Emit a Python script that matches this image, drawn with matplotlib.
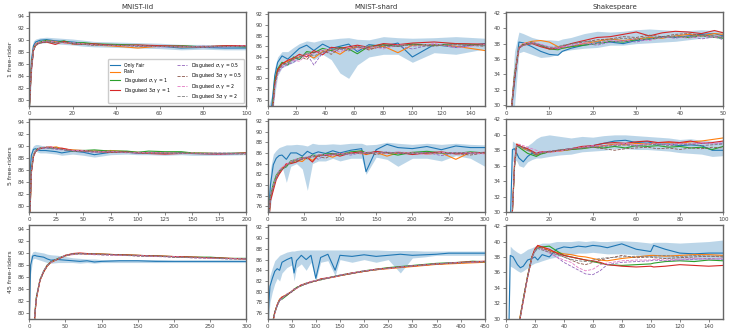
import numpy as np
import matplotlib.pyplot as plt

# --- series names / styles ---
labels = ['Only Fair', 'Plain',
          r'Disguised $\sigma$, $\gamma$ = 1', r'Disguised 3$\sigma$, $\gamma$ = 1',
          r'Disguised $\sigma$, $\gamma$ = 0.5', r'Disguised 3$\sigma$, $\gamma$ = 0.5',
          r'Disguised $\sigma$, $\gamma$ = 2', r'Disguised 3$\sigma$, $\gamma$ = 2']
colors = ['tab:blue', 'tab:orange', 'tab:green', 'tab:red',
          'tab:purple', 'tab:brown', 'tab:pink', 'tab:gray']
styles = ['-', '-', '-', '-', '--', '--', '--', '--']

col_titles = ['MNIST-iid', 'MNIST-shard', 'Shakespeare']
row_labels = ['1 free-rider', '5 free-riders', '45 free-riders']

# --- MNIST-iid, 1 free-rider ---
iid1_x = [0, 1, 2, 3, 5, 8, 12, 16, 20, 25, 30, 40, 50, 60, 70, 80, 90, 100]
iid1_fair = [78, 86.5, 89.0, 89.6, 89.9, 90.0, 89.8, 89.7, 89.6, 89.4, 89.2, 89.1, 89.0, 88.9, 88.6, 88.7, 88.6, 88.6]
iid1_plain = [78, 85.5, 88.5, 89.3, 89.6, 89.8, 89.7, 89.5, 89.3, 89.3, 89.1, 88.9, 88.6, 88.9, 88.8, 88.8, 88.9, 88.9]
iid1_s1 = [78, 85.2, 88.4, 89.2, 89.6, 89.9, 89.5, 89.8, 89.4, 89.5, 89.3, 89.2, 89.1, 88.9, 89.0, 88.8, 88.9, 88.8]
iid1_3s1 = [78, 84.8, 88.2, 89.1, 89.5, 89.6, 89.2, 89.7, 89.3, 89.2, 89.3, 89.0, 89.1, 89.0, 88.9, 88.8, 89.0, 89.0]
iid1_s05 = [78, 85.0, 88.3, 89.2, 89.5, 89.7, 89.6, 89.5, 89.4, 89.2, 89.1, 89.0, 88.9, 88.8, 88.9, 88.7, 88.8, 88.9]
iid1_3s05 = [78, 84.9, 88.1, 89.0, 89.4, 89.6, 89.5, 89.6, 89.3, 89.2, 89.2, 89.1, 89.0, 88.9, 88.8, 88.9, 88.9, 88.8]
iid1_s2 = [78, 85.1, 88.4, 89.3, 89.6, 89.8, 89.6, 89.4, 89.5, 89.3, 89.1, 89.0, 89.0, 88.8, 88.8, 88.9, 88.8, 89.0]
iid1_3s2 = [78, 85.0, 88.2, 89.1, 89.5, 89.7, 89.4, 89.6, 89.3, 89.2, 89.0, 89.1, 88.9, 88.9, 88.9, 88.8, 88.9, 88.9]
iid1_lo = [76, 84, 88.3, 89.1, 89.4, 89.5, 89.3, 89.2, 89.1, 88.9, 88.8, 88.7, 88.6, 88.5, 88.3, 88.4, 88.3, 88.3]
iid1_hi = [80, 88.5, 89.8, 90.1, 90.3, 90.4, 90.3, 90.2, 90.1, 89.9, 89.7, 89.6, 89.5, 89.4, 89.2, 89.2, 89.1, 89.1]

# --- MNIST-shard, 1 free-rider ---
shard1_x = [0, 3, 5, 7, 10, 14, 18, 22, 27, 32, 38, 44, 50, 56, 62, 70, 80, 90, 100, 115, 130, 150]
shard1_fair = [72, 75, 80.5, 83.0, 84.2, 83.6, 84.6, 85.6, 86.2, 85.2, 86.4, 85.6, 86.0, 86.4, 85.0, 86.3, 86.0, 86.6, 84.0, 86.3, 85.8, 86.5]
shard1_plain = [70, 73, 79, 81.5, 82.8, 83.2, 83.6, 84.0, 84.5, 83.8, 85.0, 85.3, 84.5, 85.6, 85.8, 85.5, 86.0, 84.8, 86.2, 86.3, 86.0, 85.2]
shard1_s1 = [70, 73, 79.5, 81.8, 83.0, 82.5, 84.0, 83.5, 85.0, 84.8, 85.6, 85.2, 85.8, 85.5, 84.6, 86.0, 86.3, 86.0, 86.4, 86.2, 86.5, 86.2]
shard1_3s1 = [70, 72, 79, 81.6, 82.7, 83.4, 83.8, 84.5, 84.0, 85.2, 84.4, 85.8, 85.6, 85.9, 86.2, 85.8, 86.5, 86.3, 86.6, 86.8, 86.5, 86.4]
shard1_s05 = [70, 72, 78.5, 81.0, 82.0, 82.6, 83.0, 83.8, 84.6, 82.5, 84.8, 85.0, 85.4, 85.2, 85.8, 85.6, 85.8, 86.0, 85.5, 86.4, 86.0, 86.2]
shard1_3s05 = [70, 72, 78.8, 81.2, 82.4, 83.0, 83.5, 84.2, 83.5, 84.8, 85.2, 84.5, 85.6, 85.6, 86.0, 85.3, 86.2, 86.0, 86.4, 86.1, 86.3, 86.0]
shard1_s2 = [70, 72, 78.2, 80.8, 82.2, 82.8, 83.4, 83.2, 84.4, 84.6, 85.3, 85.5, 84.9, 85.8, 85.4, 86.1, 85.5, 86.3, 86.0, 86.5, 85.7, 86.3]
shard1_3s2 = [70, 72, 78.6, 81.1, 82.5, 82.9, 83.7, 84.0, 84.8, 84.2, 84.9, 85.4, 85.6, 85.1, 85.9, 86.0, 85.8, 86.2, 86.1, 86.0, 86.4, 86.1]
shard1_lo = [70, 72, 77, 80.5, 82.0, 82.5, 83.0, 83.8, 84.5, 83.5, 84.5, 83.5, 81.0, 80.0, 82.5, 84.0, 84.5, 84.5, 83.0, 84.8, 84.5, 85.5]
shard1_hi = [74, 77, 82.0, 84.0, 85.0, 85.0, 85.8, 86.5, 87.0, 86.8, 87.2, 87.3, 87.5, 87.6, 87.3, 87.2, 87.8, 87.6, 87.5, 87.6, 87.8, 87.5]

# --- Shakespeare, 1 free-rider ---
shake1_x = [0, 1, 2, 3, 4, 6, 8, 10, 12, 13, 15, 18, 21, 24, 27, 30, 33, 36, 39, 42, 45, 48, 50]
shake1_fair = [28, 28, 33, 38.2, 38.1, 37.6, 37.0, 36.6, 36.5, 37.0, 37.4, 37.8, 38.1, 38.2, 38.0, 38.4, 38.6, 38.9, 38.8, 39.0, 39.2, 39.3, 39.0]
shake1_plain = [28, 28, 34, 37.5, 38.0, 38.3, 38.4, 38.2, 37.6, 37.4, 37.6, 38.0, 38.3, 38.6, 38.4, 38.6, 38.8, 38.7, 39.0, 39.2, 39.0, 39.3, 39.2]
shake1_s1 = [28, 28, 34, 37.5, 37.9, 38.2, 37.8, 37.3, 37.2, 37.4, 37.6, 37.8, 38.0, 38.3, 38.2, 38.5, 38.6, 38.8, 38.9, 38.8, 39.0, 38.8, 38.7]
shake1_3s1 = [28, 28, 33.5, 37.4, 37.8, 38.0, 37.6, 37.3, 37.4, 37.6, 38.0, 38.4, 38.8, 38.9, 39.2, 39.5, 39.0, 39.4, 39.6, 39.5, 39.3, 39.7, 39.4]
shake1_s05 = [28, 28, 33.8, 37.4, 37.8, 38.1, 37.9, 37.5, 37.3, 37.5, 37.7, 38.0, 37.8, 38.2, 38.4, 38.2, 38.6, 38.9, 38.7, 39.0, 38.6, 38.9, 38.5]
shake1_3s05 = [28, 28, 33.6, 37.5, 37.9, 38.2, 37.7, 37.4, 37.5, 37.7, 38.0, 38.2, 38.5, 38.6, 38.9, 38.8, 39.1, 38.9, 39.2, 39.3, 39.1, 39.0, 38.8]
shake1_s2 = [28, 28, 34, 37.6, 38.0, 38.2, 37.9, 37.6, 37.4, 37.6, 37.8, 38.1, 38.0, 38.4, 38.3, 38.6, 38.4, 38.8, 38.9, 38.7, 39.0, 38.8, 39.0]
shake1_3s2 = [28, 28, 33.8, 37.5, 37.8, 38.0, 37.8, 37.5, 37.6, 37.8, 37.9, 38.3, 38.2, 38.5, 38.7, 38.6, 38.9, 38.8, 39.0, 38.9, 39.1, 39.0, 38.9]
shake1_lo = [27, 27, 30, 36.8, 37.0, 36.6, 36.2, 36.3, 36.6, 37.0, 37.2, 37.4, 37.5, 37.8, 37.8, 38.0, 38.1, 38.2, 38.3, 38.5, 38.7, 38.8, 38.7]
shake1_hi = [29, 29, 37, 39.5, 39.3, 38.8, 38.5, 38.5, 38.4, 38.6, 38.8, 39.3, 39.6, 39.5, 39.6, 39.8, 39.9, 39.8, 39.7, 39.7, 39.8, 39.7, 39.6]

# --- MNIST-iid, 5 free-riders ---
iid5_x = [0, 1, 2, 4, 6, 8, 10, 15, 20, 25, 30, 40, 50, 60, 75, 90, 100, 110, 125, 140, 150, 175, 200]
iid5_fair = [78, 86, 88.5, 89.5, 89.6, 89.4, 89.3, 89.3, 89.2, 89.1, 88.9, 89.2, 89.0, 88.6, 89.0, 89.0, 88.9, 88.9, 88.8, 88.9, 88.8, 88.7, 88.8]
iid5_plain = [78, 80, 86, 88.6, 89.2, 89.5, 89.7, 89.8, 89.8, 89.9, 89.6, 89.4, 89.3, 89.2, 89.3, 89.1, 89.0, 88.9, 88.9, 88.8, 88.9, 88.8, 88.8]
iid5_s1 = [78, 80, 85.8, 88.5, 89.3, 89.6, 89.7, 89.8, 89.7, 89.7, 89.5, 89.2, 89.3, 89.4, 89.2, 89.2, 89.0, 89.2, 89.1, 89.1, 88.9, 88.8, 88.9]
iid5_3s1 = [78, 80, 85.5, 88.3, 89.1, 89.5, 89.6, 89.8, 89.9, 89.6, 89.7, 89.3, 89.2, 89.1, 89.0, 89.0, 88.9, 88.8, 88.7, 88.8, 88.8, 88.7, 88.9]
iid5_s05 = [78, 80, 85.7, 88.4, 89.2, 89.5, 89.6, 89.7, 89.6, 89.5, 89.4, 89.2, 89.1, 89.0, 89.1, 89.0, 88.8, 89.0, 88.9, 88.8, 88.8, 88.9, 88.8]
iid5_3s05 = [78, 80, 85.6, 88.4, 89.2, 89.6, 89.7, 89.9, 89.8, 89.7, 89.5, 89.3, 89.2, 89.2, 89.1, 89.1, 88.9, 88.9, 88.8, 88.9, 88.8, 88.8, 88.7]
iid5_s2 = [78, 80, 85.9, 88.6, 89.3, 89.5, 89.8, 89.7, 89.9, 89.6, 89.5, 89.3, 89.3, 89.1, 89.2, 88.9, 89.0, 88.9, 88.9, 88.8, 88.9, 88.7, 88.8]
iid5_3s2 = [78, 80, 85.7, 88.5, 89.1, 89.4, 89.6, 89.8, 89.7, 89.6, 89.5, 89.2, 89.1, 89.1, 89.0, 89.0, 88.9, 88.8, 88.9, 88.8, 88.8, 88.8, 88.8]
iid5_lo = [76, 83, 87.5, 89.0, 89.2, 89.0, 88.9, 88.9, 88.8, 88.7, 88.5, 88.7, 88.5, 88.2, 88.6, 88.7, 88.6, 88.6, 88.5, 88.6, 88.5, 88.5, 88.6]
iid5_hi = [80, 88, 89.5, 90.1, 90.3, 90.3, 90.2, 90.0, 89.8, 89.6, 89.4, 89.6, 89.5, 89.2, 89.4, 89.3, 89.2, 89.2, 89.1, 89.1, 89.0, 89.0, 89.0]

# --- MNIST-shard, 5 free-riders ---
shard5_x = [0, 4, 8, 12, 16, 20, 26, 32, 40, 48, 55, 62, 70, 80, 90, 100, 115, 130, 136, 150, 165, 180, 200, 220, 240, 260, 280, 300]
shard5_fair = [72, 80, 83.8, 85.0, 85.5, 85.6, 84.8, 86.0, 86.0, 85.4, 86.3, 85.8, 86.2, 85.9, 86.4, 86.0, 86.5, 86.8, 82.5, 86.6, 87.6, 87.0, 86.8, 87.2, 86.6, 87.3, 87.0, 87.0]
shard5_plain = [70, 77.5, 79.5, 81.5, 82.3, 83.2, 83.8, 84.2, 84.6, 84.4, 85.2, 84.6, 85.5, 85.6, 85.2, 85.8, 86.0, 85.9, 85.7, 86.1, 85.4, 86.0, 86.1, 85.8, 86.0, 84.8, 86.1, 85.9]
shard5_s1 = [70, 78, 80.2, 81.8, 82.6, 83.0, 83.4, 84.5, 84.8, 85.2, 84.9, 85.6, 85.5, 85.8, 85.9, 85.7, 86.2, 86.4, 86.0, 86.2, 86.0, 85.6, 86.1, 86.3, 86.0, 85.9, 86.2, 86.0]
shard5_3s1 = [70, 77, 79.0, 81.0, 82.0, 82.8, 84.0, 84.0, 84.3, 85.0, 85.1, 84.3, 85.6, 85.5, 85.8, 85.4, 86.0, 86.2, 85.8, 86.3, 86.0, 86.1, 85.7, 86.0, 86.2, 85.8, 86.0, 86.1]
shard5_s05 = [70, 77.8, 79.6, 81.2, 82.4, 83.1, 83.6, 84.3, 84.7, 85.0, 85.3, 85.5, 84.8, 85.7, 85.8, 85.9, 85.6, 86.1, 85.9, 86.0, 86.2, 85.9, 86.0, 86.1, 85.5, 86.0, 85.9, 86.0]
shard5_3s05 = [70, 77.6, 79.8, 81.4, 82.2, 82.9, 83.7, 84.1, 84.4, 84.8, 85.1, 85.3, 85.4, 85.0, 85.7, 85.9, 85.9, 86.0, 86.1, 85.7, 86.1, 86.0, 85.8, 86.0, 86.1, 85.9, 85.6, 86.0]
shard5_s2 = [70, 78.2, 80.0, 81.6, 82.8, 83.3, 83.9, 84.4, 84.9, 85.1, 85.0, 85.4, 85.6, 85.7, 85.5, 85.9, 86.0, 85.8, 86.2, 86.1, 85.9, 86.2, 86.0, 85.7, 86.1, 86.0, 86.1, 85.8]
shard5_3s2 = [70, 77.7, 79.7, 81.3, 82.5, 83.0, 83.5, 84.2, 84.6, 84.9, 85.2, 85.2, 85.5, 85.6, 85.7, 85.6, 85.9, 86.0, 85.9, 86.1, 86.0, 86.1, 85.9, 86.0, 85.9, 86.1, 86.0, 86.1]
shard5_lo = [70, 76, 80, 81.5, 82.5, 83.5, 80.5, 83.5, 84.0, 83.0, 79.0, 84.0, 84.5, 84.5, 85.0, 84.5, 85.0, 85.0, 82.0, 85.2, 84.8, 83.5, 85.0, 85.0, 84.5, 85.5, 85.0, 83.5]
shard5_hi = [75, 83, 85.8, 86.5, 87.0, 87.2, 87.5, 87.5, 87.6, 87.5, 87.3, 87.8, 87.6, 87.6, 87.7, 87.6, 87.8, 87.8, 87.5, 87.6, 88.0, 87.8, 87.6, 87.8, 87.6, 87.8, 87.6, 87.5]

# --- Shakespeare, 5 free-riders ---
shake5_x = [0, 2, 3, 4, 5, 6, 8, 10, 12, 14, 16, 20, 25, 30, 35, 40, 45, 50, 55, 60, 65, 70, 75, 80, 85, 90, 95, 100]
shake5_fair = [28, 28, 38.1, 38.2, 37.6, 37.0, 36.5, 37.2, 37.6, 37.4, 37.6, 37.8, 38.0, 38.2, 38.4, 38.6, 38.9, 39.2, 39.3, 39.0, 39.1, 38.8, 38.8, 38.6, 38.7, 38.6, 38.0, 38.0]
shake5_plain = [28, 28, 30, 36, 38.8, 38.7, 38.2, 38.0, 37.8, 37.4, 37.6, 37.8, 37.9, 38.1, 38.3, 38.4, 38.6, 38.8, 38.7, 38.9, 38.8, 39.0, 39.0, 38.9, 39.1, 39.2, 39.4, 39.6]
shake5_s1 = [28, 28, 30, 36, 38.7, 38.4, 38.0, 37.6, 37.4, 37.2, 37.5, 37.8, 38.0, 38.1, 38.2, 38.4, 38.3, 38.5, 38.3, 38.6, 38.5, 38.6, 38.4, 38.5, 38.3, 38.4, 38.1, 38.5]
shake5_3s1 = [28, 28, 30, 36.5, 38.8, 38.6, 38.4, 38.2, 37.9, 37.6, 37.8, 37.8, 38.0, 38.2, 38.5, 38.6, 38.9, 39.0, 38.9, 39.1, 39.2, 39.0, 39.1, 39.0, 39.2, 38.9, 39.0, 39.2]
shake5_s05 = [28, 28, 30, 36, 38.6, 38.5, 38.3, 38.0, 37.8, 37.6, 37.7, 37.9, 38.0, 38.2, 38.3, 38.5, 38.6, 38.7, 38.8, 38.6, 38.9, 38.7, 38.8, 38.9, 38.8, 38.9, 38.8, 38.9]
shake5_3s05 = [28, 28, 30, 36, 38.5, 38.6, 38.4, 38.1, 37.8, 37.4, 37.6, 37.8, 38.0, 38.1, 38.3, 38.4, 38.2, 38.0, 38.2, 38.3, 38.4, 38.2, 38.3, 38.1, 38.3, 38.2, 38.4, 38.3]
shake5_s2 = [28, 28, 30, 36, 38.7, 38.8, 38.6, 38.4, 38.2, 38.0, 37.8, 37.7, 37.9, 38.2, 38.4, 38.6, 38.5, 38.7, 38.9, 38.7, 38.8, 38.9, 38.7, 38.9, 38.8, 39.0, 38.9, 39.0]
shake5_3s2 = [28, 28, 30, 36, 38.6, 38.5, 38.3, 38.0, 37.7, 37.5, 37.6, 37.8, 38.1, 38.2, 38.3, 38.4, 38.5, 38.6, 38.7, 38.5, 38.7, 38.8, 38.6, 38.7, 38.8, 38.6, 38.7, 38.8]
shake5_lo = [27, 27, 36.5, 36.8, 36.6, 36.0, 35.8, 36.5, 36.8, 37.0, 37.0, 37.2, 37.4, 37.5, 37.8, 37.9, 38.0, 38.2, 38.2, 38.1, 38.1, 38.0, 37.9, 37.7, 37.6, 37.5, 37.2, 37.3]
shake5_hi = [29, 29, 39.2, 39.0, 38.8, 38.6, 38.4, 38.6, 39.0, 39.5, 39.8, 40.0, 39.8, 39.6, 39.8, 39.7, 39.9, 40.0, 40.0, 39.9, 39.8, 39.7, 39.6, 39.4, 39.5, 39.3, 39.2, 39.2]

# --- MNIST-iid, 45 free-riders ---
iid45_x = [0, 2, 5, 8, 10, 15, 20, 25, 30, 40, 50, 60, 70, 80, 90, 100, 125, 150, 175, 200, 225, 250, 275, 300]
iid45_fair = [78, 88.0, 89.5, 89.6, 89.5, 89.4, 89.3, 89.0, 88.8, 88.9, 88.8, 88.7, 88.6, 88.7, 88.5, 88.6, 88.7, 88.7, 88.6, 88.6, 88.6, 88.6, 88.6, 88.6]
iid45_plain = [70, 70, 74, 80.0, 82.5, 85.5, 86.8, 87.8, 88.4, 89.0, 89.5, 89.8, 89.9, 89.8, 89.9, 89.8, 89.7, 89.6, 89.5, 89.4, 89.3, 89.2, 89.1, 89.0]
iid45_s1 = [70, 70, 74, 80.2, 82.7, 85.6, 87.0, 88.0, 88.5, 89.1, 89.6, 89.8, 89.9, 89.9, 89.8, 89.8, 89.7, 89.6, 89.5, 89.4, 89.3, 89.3, 89.1, 89.1]
iid45_3s1 = [70, 70, 73.5, 79.8, 82.4, 85.4, 86.9, 87.9, 88.5, 89.0, 89.6, 89.9, 90.0, 89.9, 89.8, 89.8, 89.7, 89.6, 89.5, 89.4, 89.3, 89.2, 89.1, 89.0]
iid45_s05 = [70, 70, 73.8, 80.0, 82.6, 85.5, 86.9, 87.9, 88.4, 89.0, 89.5, 89.8, 89.8, 89.8, 89.7, 89.7, 89.6, 89.5, 89.4, 89.3, 89.2, 89.1, 89.0, 89.0]
iid45_3s05 = [70, 70, 73.6, 79.9, 82.5, 85.4, 86.8, 87.8, 88.5, 89.1, 89.5, 89.8, 89.9, 89.9, 89.8, 89.7, 89.7, 89.5, 89.5, 89.3, 89.3, 89.2, 89.1, 89.0]
iid45_s2 = [70, 70, 73.9, 80.1, 82.6, 85.6, 87.0, 87.9, 88.4, 89.1, 89.6, 89.7, 89.9, 89.8, 89.8, 89.7, 89.6, 89.6, 89.4, 89.4, 89.2, 89.1, 89.1, 89.0]
iid45_3s2 = [70, 70, 73.7, 79.9, 82.5, 85.5, 86.9, 87.8, 88.5, 89.0, 89.5, 89.9, 89.9, 89.8, 89.9, 89.7, 89.7, 89.5, 89.5, 89.3, 89.2, 89.2, 89.0, 89.0]
iid45_lo = [76, 86.5, 89.0, 89.1, 89.0, 88.8, 88.6, 88.4, 88.3, 88.4, 88.4, 88.4, 88.3, 88.4, 88.3, 88.4, 88.4, 88.4, 88.4, 88.4, 88.4, 88.4, 88.4, 88.4]
iid45_hi = [80, 89.5, 90.2, 90.3, 90.2, 90.1, 90.0, 89.8, 89.7, 89.6, 89.4, 89.2, 89.1, 89.0, 89.0, 88.9, 88.9, 88.9, 88.9, 88.8, 88.8, 88.8, 88.8, 88.8]

# --- MNIST-shard, 45 free-riders ---
shard45_x = [0, 5, 10, 15, 20, 25, 30, 40, 50, 55, 60, 70, 80, 90, 100, 110, 125, 140, 150, 175, 200, 225, 250, 275, 300, 325, 350, 375, 400, 425, 450]
shard45_fair = [74, 81, 82.5, 83.8, 84.3, 84.0, 85.5, 86.0, 86.4, 83.5, 85.8, 86.8, 86.0, 86.8, 82.5, 86.4, 87.0, 84.0, 86.8, 86.6, 86.9, 86.6, 86.8, 87.0, 86.8, 86.9, 87.0, 87.2, 87.2, 87.2, 87.2]
shard45_plain = [70, 70, 74, 76.0, 77.6, 78.6, 79.0, 79.5, 80.0, 80.4, 80.7, 81.2, 81.5, 81.8, 82.0, 82.3, 82.5, 82.8, 83.0, 83.4, 83.8, 84.1, 84.3, 84.5, 84.7, 84.9, 85.1, 85.2, 85.3, 85.4, 85.5]
shard45_s1 = [70, 70, 74, 76.2, 77.4, 78.4, 78.6, 79.3, 80.1, 80.3, 80.8, 81.1, 81.6, 81.8, 82.1, 82.2, 82.6, 82.9, 83.1, 83.5, 83.9, 84.2, 84.5, 84.7, 84.9, 85.1, 85.3, 85.4, 85.5, 85.7, 85.6]
shard45_3s1 = [70, 70, 73.8, 76.1, 77.5, 78.5, 79.0, 79.4, 80.0, 80.5, 80.6, 81.3, 81.5, 81.9, 82.0, 82.4, 82.6, 82.8, 83.0, 83.5, 83.8, 84.2, 84.4, 84.6, 84.8, 85.0, 85.2, 85.3, 85.5, 85.6, 85.7]
shard45_s05 = [70, 70, 73.9, 76.0, 77.3, 78.3, 78.7, 79.5, 79.9, 80.4, 80.7, 81.2, 81.4, 81.8, 82.1, 82.3, 82.5, 82.9, 83.1, 83.4, 83.9, 84.1, 84.4, 84.6, 84.9, 85.0, 85.2, 85.4, 85.4, 85.5, 85.6]
shard45_3s05 = [70, 70, 74, 76.1, 77.6, 78.5, 78.8, 79.4, 80.0, 80.3, 80.8, 81.1, 81.5, 81.7, 82.0, 82.3, 82.6, 82.8, 83.0, 83.4, 83.8, 84.1, 84.4, 84.6, 84.8, 85.0, 85.1, 85.3, 85.4, 85.5, 85.6]
shard45_s2 = [70, 70, 73.9, 75.9, 77.5, 78.4, 78.7, 79.6, 80.1, 80.4, 80.6, 81.2, 81.6, 81.9, 82.1, 82.2, 82.6, 82.8, 83.1, 83.5, 83.9, 84.2, 84.3, 84.6, 84.8, 85.0, 85.2, 85.3, 85.5, 85.5, 85.7]
shard45_3s2 = [70, 70, 74, 76.0, 77.4, 78.5, 78.9, 79.5, 80.0, 80.5, 80.7, 81.2, 81.5, 81.8, 82.0, 82.3, 82.5, 82.9, 83.0, 83.4, 83.8, 84.1, 84.4, 84.6, 84.8, 85.0, 85.2, 85.3, 85.4, 85.6, 85.6]
shard45_lo = [72, 78, 80, 81.5, 82.5, 82.0, 83.5, 84.5, 85.0, 82.0, 84.5, 85.2, 84.0, 85.5, 82.0, 85.5, 85.8, 83.0, 86.0, 85.5, 86.0, 85.5, 86.0, 83.5, 86.3, 86.5, 86.8, 86.8, 86.8, 86.8, 86.8]
shard45_hi = [76, 83, 84.5, 85.8, 86.3, 86.8, 87.0, 87.4, 87.6, 87.6, 87.7, 87.8, 87.8, 87.8, 87.8, 87.8, 87.8, 87.8, 87.8, 87.8, 87.8, 87.8, 87.7, 87.7, 87.7, 87.6, 87.6, 87.6, 87.6, 87.6, 87.6]

# --- Shakespeare, 45 free-riders ---
shake45_x = [0, 2, 3, 5, 8, 10, 12, 15, 18, 20, 22, 25, 30, 35, 40, 45, 50, 55, 60, 65, 70, 80, 90, 100, 102, 110, 120, 130, 140, 150]
shake45_fair = [28, 28, 38.2, 38.0, 37.0, 36.6, 36.8, 37.6, 37.8, 38.0, 37.6, 38.3, 38.0, 39.0, 39.3, 39.2, 39.4, 39.3, 39.5, 39.4, 39.2, 39.7, 39.0, 38.7, 39.5, 39.0, 38.5, 38.4, 38.5, 38.5]
shake45_plain = [27, 27, 27, 27, 28, 30.5, 32.5, 35.5, 38.0, 39.0, 39.4, 39.3, 38.8, 38.6, 38.4, 38.3, 38.1, 38.0, 37.8, 37.6, 37.5, 37.8, 38.0, 38.2, 38.2, 38.1, 38.2, 38.3, 38.3, 38.2]
shake45_s1 = [27, 27, 27, 27, 28, 30.3, 32.5, 35.5, 38.0, 38.8, 39.2, 39.3, 39.4, 38.8, 38.2, 38.0, 37.8, 37.6, 37.4, 37.2, 37.0, 36.9, 37.0, 37.1, 37.2, 37.4, 37.5, 37.4, 37.6, 37.5]
shake45_3s1 = [27, 27, 27, 27, 28, 30.2, 32.3, 35.4, 38.0, 39.0, 39.5, 39.3, 39.0, 38.5, 38.2, 38.0, 37.8, 37.6, 37.5, 37.3, 37.0, 36.8, 36.7, 36.8, 36.7, 36.8, 37.0, 36.9, 36.8, 36.9]
shake45_s05 = [27, 27, 27, 27, 28, 30.3, 32.4, 35.5, 37.8, 38.7, 39.1, 39.0, 38.6, 38.0, 37.3, 36.8, 36.3, 35.8, 35.7, 36.2, 37.0, 37.3, 37.4, 37.5, 37.6, 37.5, 37.6, 37.7, 37.8, 37.7]
shake45_3s05 = [27, 27, 27, 27, 28, 30.4, 32.6, 35.6, 38.0, 38.9, 39.3, 39.1, 38.8, 38.4, 38.0, 37.6, 37.2, 37.0, 37.3, 37.6, 37.8, 38.2, 37.9, 38.0, 37.9, 37.8, 37.9, 38.0, 38.1, 38.0]
shake45_s2 = [27, 27, 27, 27, 28, 30.2, 32.4, 35.3, 37.9, 38.8, 39.2, 39.0, 38.5, 38.0, 37.6, 37.3, 36.6, 36.2, 36.4, 37.0, 37.2, 37.5, 37.6, 37.6, 37.7, 37.6, 37.7, 37.8, 37.7, 37.8]
shake45_3s2 = [27, 27, 27, 27, 28, 30.3, 32.5, 35.4, 37.9, 38.7, 39.1, 38.9, 38.6, 38.3, 38.0, 37.7, 37.5, 37.4, 37.6, 37.8, 37.9, 38.0, 38.1, 38.0, 38.1, 38.2, 38.0, 38.2, 38.1, 38.1]
shake45_lo = [27, 27, 36.8, 36.6, 36.2, 36.0, 36.2, 36.6, 37.0, 37.2, 37.3, 37.5, 37.8, 38.0, 38.3, 38.3, 38.5, 38.5, 38.6, 38.5, 38.4, 38.4, 38.3, 38.0, 38.0, 37.8, 37.6, 37.6, 37.6, 37.6]
shake45_hi = [29, 29, 39.4, 39.0, 38.6, 38.4, 38.6, 39.0, 39.2, 39.4, 39.6, 39.8, 39.8, 40.0, 40.0, 40.0, 40.1, 40.0, 40.1, 40.0, 40.0, 40.1, 40.0, 39.8, 39.9, 39.9, 39.8, 39.9, 40.0, 40.2]


def draw_panel(ax, x, series, lo, hi, xmax, xstep, ylim, yticks):
    ax.fill_between(x, lo, hi, color='tab:blue', alpha=0.3, linewidth=0)
    for y, c, ls, lab in zip(series, colors, styles, labels):
        lw = 0.8 if ls == '-' else 0.6
        ax.plot(x, y, color=c, linestyle=ls, linewidth=lw, label=lab)
    ax.set_xlim(0, xmax)
    ax.set_xticks(np.arange(0, xmax + 1, xstep))
    ax.set_ylim(*ylim)
    ax.set_yticks(yticks)
    ax.tick_params(labelsize=4, length=2, width=0.5, pad=1.5,
                   color='#555555', labelcolor='#444444')
    for sp in ax.spines.values():
        sp.set_linewidth(1.0)
        sp.set_color('#666666')


fig, axes = plt.subplots(3, 3, figsize=(7.29, 3.29), dpi=100)
plt.subplots_adjust(left=0.040, right=0.992, top=0.9635, bottom=0.0304,
                    wspace=0.097, hspace=0.139)

iid_y = ((79.0, 94.6), np.arange(80, 95, 2))
shard_y = ((74.9, 92.4), np.arange(76, 93, 2))
shake_y = ((29.95, 42.1), np.arange(30, 43, 2))

panels = [
    [(iid1_x, [iid1_fair, iid1_plain, iid1_s1, iid1_3s1, iid1_s05, iid1_3s05, iid1_s2, iid1_3s2],
      iid1_lo, iid1_hi, 100, 20, iid_y),
     (shard1_x, [shard1_fair, shard1_plain, shard1_s1, shard1_3s1, shard1_s05, shard1_3s05, shard1_s2, shard1_3s2],
      shard1_lo, shard1_hi, 150, 20, shard_y),
     (shake1_x, [shake1_fair, shake1_plain, shake1_s1, shake1_3s1, shake1_s05, shake1_3s05, shake1_s2, shake1_3s2],
      shake1_lo, shake1_hi, 50, 10, shake_y)],
    [(iid5_x, [iid5_fair, iid5_plain, iid5_s1, iid5_3s1, iid5_s05, iid5_3s05, iid5_s2, iid5_3s2],
      iid5_lo, iid5_hi, 200, 25, iid_y),
     (shard5_x, [shard5_fair, shard5_plain, shard5_s1, shard5_3s1, shard5_s05, shard5_3s05, shard5_s2, shard5_3s2],
      shard5_lo, shard5_hi, 300, 50, shard_y),
     (shake5_x, [shake5_fair, shake5_plain, shake5_s1, shake5_3s1, shake5_s05, shake5_3s05, shake5_s2, shake5_3s2],
      shake5_lo, shake5_hi, 100, 20, shake_y)],
    [(iid45_x, [iid45_fair, iid45_plain, iid45_s1, iid45_3s1, iid45_s05, iid45_3s05, iid45_s2, iid45_3s2],
      iid45_lo, iid45_hi, 300, 50, iid_y),
     (shard45_x, [shard45_fair, shard45_plain, shard45_s1, shard45_3s1, shard45_s05, shard45_3s05, shard45_s2, shard45_3s2],
      shard45_lo, shard45_hi, 450, 50, shard_y),
     (shake45_x, [shake45_fair, shake45_plain, shake45_s1, shake45_3s1, shake45_s05, shake45_3s05, shake45_s2, shake45_3s2],
      shake45_lo, shake45_hi, 150, 20, shake_y)],
]

for r in range(3):
    for c in range(3):
        x, series, lo, hi, xmax, xstep, (ylim, yticks) = panels[r][c]
        draw_panel(axes[r, c], x, series, lo, hi, xmax, xstep, ylim, yticks)
    axes[r, 0].set_ylabel(row_labels[r], fontsize=4.5, labelpad=3, color='#333333')

for c in range(3):
    axes[0, c].set_title(col_titles[c], fontsize=5, pad=2, color='#333333')

axes[0, 0].legend(loc='lower right', ncol=2, fontsize=3.3, handlelength=2.2,
                  columnspacing=1.3, labelspacing=0.3, borderpad=0.5,
                  framealpha=1, edgecolor='#cccccc')

fig.savefig('out.png', dpi=100)
